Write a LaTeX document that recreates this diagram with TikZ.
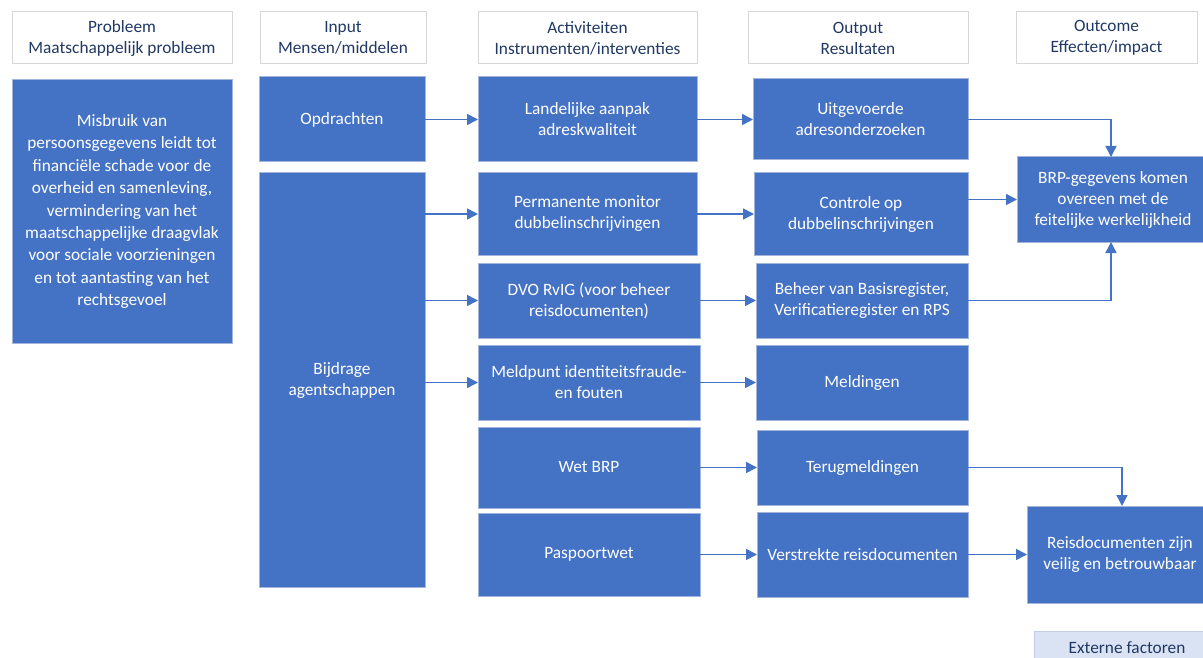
\documentclass[tikz,border=0pt]{standalone}
\usepackage{fontspec}
\setmainfont{Carlito}
\usetikzlibrary{arrows.meta}
\definecolor{bfill}{HTML}{4472C4}
\definecolor{bline}{HTML}{A3B5DA}
\definecolor{hline}{HTML}{D6D6D6}
\definecolor{htext}{HTML}{203864}
\definecolor{efill}{HTML}{DAE3F3}
\definecolor{eline}{HTML}{C3CEE4}
\begin{document}
\begin{tikzpicture}[x=1pt,y=-1pt,
  blk/.style={draw=bline, line width=1pt, fill=bfill, text=white, inner sep=0pt, outer sep=0pt, align=center, font=\fontsize{17.3}{21}\selectfont},
  hdr/.style={draw=hline, line width=1pt, fill=white, text=htext, inner sep=0pt, outer sep=0pt, align=center, font=\fontsize{17.3}{21}\selectfont, minimum height=52pt},
  ext/.style={draw=eline, line width=1pt, fill=efill, text=htext, inner sep=0pt, outer sep=0pt, align=center, font=\fontsize{17.3}{21}\selectfont},
  arr/.style={draw=bfill, line width=1.5pt, -{Triangle[length=11pt,width=11pt]}}]
\useasboundingbox (0,0) rectangle (1203,658);
\clip (0,0) rectangle (1203,658);
% headers
\node[hdr, minimum width=220pt] (hp) at (122,38) {Probleem\\Maatschappelijk probleem};
\node[hdr, minimum width=166pt] (hi) at (343,38) {Input\\Mensen/middelen};
\node[hdr, minimum width=219pt] (ha) at (587.5,38) {Activiteiten\\Instrumenten/interventies};
\node[hdr, minimum width=220pt] (ho) at (858,38) {Output\\Resultaten};
\node[hdr, minimum width=181pt] (hu) at (1106.5,38) {Outcome\\Effecten/impact};
% problem
\node[blk, minimum width=220pt, minimum height=263pt, font=\fontsize{17.3}{22.4}\selectfont] (prob) at (122,211.5) {Misbruik van\\persoonsgegevens leidt tot\\financiële schade voor de\\overheid en samenleving,\\vermindering van het\\maatschappelijke draagvlak\\voor sociale voorzieningen\\en tot aantasting van het\\rechtsgevoel};
% input
\node[blk, minimum width=166pt, minimum height=85pt] (opd) at (342,119.5) {Opdrachten};
\node[blk, minimum width=166pt, minimum height=414pt] (bij) at (342,380) {Bijdrage\\agentschappen};
% activities
\node[blk, minimum width=219pt, minimum height=85pt] (lan) at (587.5,119.5) {Landelijke aanpak\\adreskwaliteit};
\node[blk, minimum width=219pt, minimum height=82pt] (per) at (587.5,214) {Permanente monitor\\dubbelinschrijvingen};
\node[blk, minimum width=222pt, minimum height=75pt] (dvo) at (589,300.5) {DVO RvIG (voor beheer\\reisdocumenten)};
\node[blk, minimum width=222pt, minimum height=75pt] (mel) at (589,382.5) {Meldpunt identiteitsfraude-\\en fouten};
\node[blk, minimum width=222pt, minimum height=81pt] (wet) at (589,467.5) {Wet BRP};
\node[blk, minimum width=222pt, minimum height=83pt] (pas) at (589,554.5) {Paspoortwet};
% outputs
\node[blk, minimum width=215pt, minimum height=81pt] (uit) at (860.5,119.5) {Uitgevoerde\\adresonderzoeken};
\node[blk, minimum width=214pt, minimum height=82pt] (con) at (861,214) {Controle op\\dubbelinschrijvingen};
\node[blk, minimum width=212pt, minimum height=75pt] (beh) at (862,300.5) {Beheer van Basisregister,\\Verificatieregister en RPS};
\node[blk, minimum width=212pt, minimum height=75pt] (mld) at (862,382.5) {Meldingen};
\node[blk, minimum width=211pt, minimum height=75pt] (ter) at (862.5,467.5) {Terugmeldingen};
\node[blk, minimum width=211pt, minimum height=85pt] (ver) at (862.5,554.5) {Verstrekte reisdocumenten};
% outcomes
\node[blk, minimum width=192pt, minimum height=85pt] (brp) at (1113,199.5) {BRP-gegevens komen\\overeen met de\\feitelijke werkelijkheid};
\node[blk, minimum width=186pt, minimum height=97pt] (rei) at (1120,554.5) {Reisdocumenten zijn\\veilig en betrouwbaar};
\node[ext, minimum width=186pt, minimum height=34pt] (ex) at (1127,648) {Externe factoren};
% connectors
\coordinate (c1) at (1111,119.5);
\coordinate (c2) at (1111,300.5);
\coordinate (c3) at (1122,467.5);
\draw[arr] (opd.east) -- (lan.west);
\draw[arr] (bij.east |- per.west) -- (per.west);
\draw[arr] (bij.east |- dvo.west) -- (dvo.west);
\draw[arr] (bij.east |- mel.west) -- (mel.west);
\draw[arr] (lan.east) -- (uit.west |- lan.east);
\draw[arr] (per.east) -- (con.west |- per.east);
\draw[arr] (dvo.east) -- (beh.west |- dvo.east);
\draw[arr] (mel.east) -- (mld.west |- mel.east);
\draw[arr] (wet.east) -- (ter.west |- wet.east);
\draw[arr] (pas.east) -- (ver.west |- pas.east);
\draw[arr] (uit.east) -- (c1) -- (c1 |- brp.north);
\draw[arr] (con.east |- brp.west) -- (brp.west);
\draw[arr] (beh.east) -- (c2) -- (c2 |- brp.south);
\draw[arr] (ter.east) -- (c3) -- (c3 |- rei.north);
\draw[arr] (ver.east) -- (rei.west |- ver.east);
\end{tikzpicture}
\end{document}
